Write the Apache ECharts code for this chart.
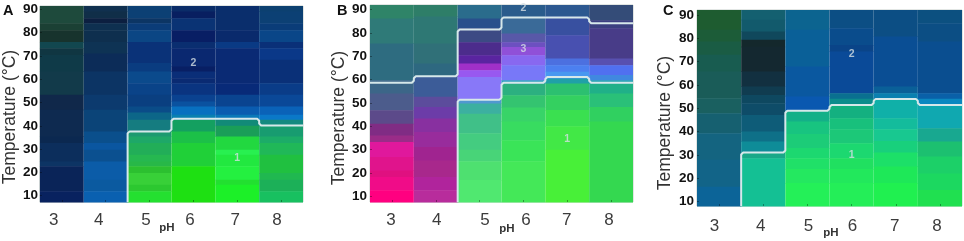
<!DOCTYPE html>
<html><head><meta charset="utf-8">
<script src="https://cdn.jsdelivr.net/npm/echarts@6/dist/echarts.min.js"></script>
<style>html,body{margin:0;background:#fff}#c{width:964px;height:241px;filter:blur(.7px)}</style>
</head><body><div id="c"></div>
<script>
const phLabels = ['3','4','5','6','7','8'];
const tempTicks = [10,20,30,40,50,60,70,80,90];

// Bands per column: [lower edge in °C, colour], top to bottom
const a3 = [[84,'#1e4a3c'],[81,'#1b4034'],[76,'#17332d'],[73.3,'#12474f'],[70.4,'#103642'],[63.3,'#0f3a48'],[53.3,'#123a4a'],[46.9,'#10284a'],[35.4,'#0e2a50'],[32.6,'#0b2850'],[24.7,'#0c2e5c'],[22.6,'#0d3464'],[11.9,'#0a2458'],[7.3,'#08225f']];
const a4 = [[89,'#10304f'],[86.1,'#102e48'],[84,'#0c1f40'],[81,'#0e3050'],[76,'#0e2f4e'],[71,'#0e3354'],[63.3,'#0c2c58'],[53.3,'#0c3464'],[46.9,'#0c3a6e'],[37.6,'#0b4478'],[32.6,'#0a4f8c'],[29.7,'#0a56a0'],[24.7,'#0b5090'],[16.9,'#0b5ca8'],[11.9,'#0b5aa0'],[7.3,'#0a60b0']];
const a5 = [[86.1,'#0c4074'],[84,'#0c3564'],[81,'#0b3c78'],[76,'#0b4684'],[66.9,'#0a3278'],[63.3,'#0a3c80'],[58.3,'#0b4a8c'],[53.3,'#0a4388'],[48.3,'#0a3f80'],[45.7,'#0a4c88'],[42.6,'#0c6688'],[37.6,'#157c80'],[35.4,'#1c9a70'],[32.6,'#1ea868'],[27.6,'#22ae58'],[24.7,'#26b850'],[22.6,'#28b848'],[19.7,'#2cc030'],[14.7,'#38d038'],[11.9,'#2cc830'],[7.3,'#24e030']];
const a6 = [[89,'#0a2c68'],[86.1,'#081f60'],[81,'#0a3374'],[76,'#081e64'],[73.3,'#0a2e70'],[65.4,'#0a2870'],[63.3,'#081f64'],[60.4,'#0a2e78'],[58.3,'#0a2a72'],[53.3,'#0a3480'],[50.4,'#0a4290'],[48.3,'#0a52a0'],[44.7,'#0870c0'],[42.6,'#0a80b0'],[37.6,'#14a060'],[32.6,'#1cc048'],[22.6,'#20d038'],[7.3,'#1ee012']];
const a7 = [[81,'#0a2e6c'],[76,'#0a2a6c'],[73.3,'#0a3a84'],[58.3,'#0a2a74'],[53.3,'#082a78'],[48.3,'#0a4490'],[44.7,'#0a5cb0'],[42.6,'#0a78b8'],[40,'#128a78'],[35.4,'#1a9e58'],[29.7,'#22d840'],[27.6,'#28f050'],[22.6,'#22e840'],[16.9,'#24f040'],[14.7,'#22e030'],[7.3,'#1cf028']];
const a8 = [[89,'#0c4070'],[84,'#0c4074'],[81,'#0a3c78'],[76,'#0a4688'],[73.3,'#0a3078'],[68.3,'#0a3888'],[58.3,'#0a3078'],[53.3,'#0a3c88'],[48.3,'#0a4898'],[44.7,'#0a62b8'],[42.6,'#0a78c8'],[40.4,'#148a80'],[35.4,'#189c70'],[32.6,'#1cac68'],[27.6,'#20b858'],[19.7,'#20c040'],[16.9,'#20b850'],[11.9,'#1cb058'],[7.3,'#18c060']];

const b3 = [[86.1,'#2f8468'],[75.4,'#2f7a78'],[59.7,'#2e6c80'],[54,'#3c6688'],[46.9,'#4c5c8c'],[41.1,'#5c4a8a'],[36.1,'#802c84'],[33.3,'#9a2c88'],[26.9,'#e0189c'],[21.1,'#e0148c'],[18.3,'#e01080'],[12.6,'#f00c88'],[7.6,'#ff0080']];
const b4 = [[87,'#2e7e68'],[75.4,'#2e7874'],[66.9,'#307078'],[61.4,'#2e6880'],[52.6,'#3c5c98'],[48.3,'#5c4c9c'],[43.3,'#6c3ca8'],[37.6,'#8830a0'],[31.1,'#982c9c'],[25.4,'#a02490'],[18.3,'#a8288c'],[12.6,'#b0249c'],[7.6,'#b82c9c']];
const b5 = [[86.1,'#2a6c8c'],[81.9,'#28508c'],[76,'#3c4a84'],[70.4,'#4c2c8c'],[66.9,'#5a24a0'],[64,'#a030c8'],[61.1,'#9858f0'],[51.4,'#8878f8'],[49.7,'#5098d0'],[45.4,'#3cb0a0'],[37,'#40c088'],[30,'#44cc80'],[25,'#48d478'],[17,'#4ee070'],[7.6,'#50e870']];
const b6 = [[87,'#2a5c8c'],[79.7,'#3a6a98'],[76,'#5858a8'],[73.9,'#6c50c0'],[70.4,'#9050d8'],[66.1,'#8868f0'],[59.7,'#7878f8'],[58.3,'#30a0c0'],[53.3,'#2cb080'],[48,'#34c470'],[42,'#38d468'],[34,'#38dc60'],[25,'#3ae458'],[7.6,'#44e858']];
const b7 = [[87,'#2c5890'],[79,'#3850a0'],[69,'#4850b0'],[66.1,'#4c70e0'],[63.3,'#4c80f0'],[60.4,'#4898f0'],[58.3,'#20a0a8'],[53.3,'#2cc070'],[47,'#34d060'],[40,'#3ae050'],[30,'#42e846'],[7.6,'#48f038']];
const b8 = [[85.4,'#344c78'],[81.9,'#3c3f80'],[69,'#483c88'],[66.1,'#5850b0'],[61.9,'#5070f0'],[59.7,'#4088e0'],[58.3,'#20a0b0'],[54,'#20b088'],[48.3,'#2ac078'],[42,'#30d060'],[7.6,'#34d850']];

const c3 = [[83.6,'#1e5c30'],[78.6,'#1c5c38'],[72.9,'#1a5c44'],[65.7,'#185c50'],[54.3,'#1a5c58'],[47.9,'#1a6060'],[39.3,'#166070'],[27.9,'#146480'],[16.4,'#126488'],[8.1,'#0c6498']];
const c4 = [[87.9,'#146070'],[82.9,'#125a6c'],[79.3,'#10485c'],[76.4,'#14282c'],[65.7,'#142830'],[59.3,'#123040'],[55.7,'#103c50'],[52.1,'#0e4860'],[47.1,'#0e4c68'],[40,'#0e5c78'],[35.7,'#0e7088'],[31,'#0e8c98'],[28.6,'#18a888'],[8.1,'#14c094']];
const c5 = [[83.6,'#0c6490'],[67.9,'#0a6098'],[55,'#0a58a0'],[48.9,'#0a58b0'],[44.3,'#14b088'],[39,'#18c480'],[33,'#1ccc78'],[28.6,'#1cd870'],[24,'#20e068'],[18,'#24e860'],[8.1,'#24f058']];
const c6 = [[84.3,'#0c4e84'],[77.1,'#0a4c8c'],[74.3,'#0a4488'],[56.4,'#0a4a98'],[54.1,'#0a7090'],[51.4,'#0c8c8c'],[45.7,'#14b080'],[41,'#18c07c'],[35,'#1cc878'],[28.6,'#1cd870'],[24,'#20e060'],[18,'#22e85c'],[8.1,'#24ee58']];
const c7 = [[80.7,'#0c4e84'],[59.3,'#0a4e94'],[56.4,'#0a6098'],[54,'#0a80b0'],[45.7,'#10b0a8'],[41,'#14bc9c'],[36,'#18c890'],[31,'#18d07c'],[25,'#1ce068'],[18,'#1ee858'],[8.1,'#20f050']];
const c8 = [[86.4,'#0c5080'],[78.6,'#0c4e84'],[56.4,'#0a4e90'],[54.1,'#0a60a8'],[51.4,'#0a88c0'],[41.4,'#10a8b0'],[35.7,'#18a890'],[29.3,'#1cc070'],[22,'#1cd068'],[15,'#1cd860'],[8.1,'#20e050']];

// Contour temperature at each pH (null: no contour in that column)
const contA = [null,null,37.6,43,43,40.1];
const contB1 = [58.6,61.4,81.4,86.6,86.6,84.1];
const contB2 = [null,null,51.4,58.6,61.1,58.6];
const contC = [null,31,48.9,51.4,54,51.4];

const panelA = {letter:'A',cols:[a3,a4,a5,a6,a7,a8],conts:[contA],top:91.4,bottom:7.3,
  box:[38,6,265,196],marks:[['2',3.05,66.9],['1',4.05,26.1]],
  nudge:[-8,-7,-3.5,-3.5,-2,-4],labelMargin:2,nameGap:19,namePad:26,lx:3,ph:[167,222],xMargin:10};
const panelB = {letter:'B',cols:[b3,b4,b5,b6,b7,b8],conts:[contB1,contB2],top:91.9,bottom:7.6,
  box:[370,5,263,197],marks:[['2',3.06,90.4],['3',3.06,72.9],['1',4.04,34.3]],
  nudge:[-1,1,5.5,2.5,-0.5,-2],labelMargin:3,nameGap:20,namePad:29,lx:337,ph:[507,223],xMargin:10};
const panelC = {letter:'C',cols:[c3,c4,c5,c6,c7,c8],conts:[contC],top:92.1,bottom:8.1,
  box:[697,10,265,196],marks:[['2',3.08,73.1],['1',3.08,29.7]],
  nudge:[-4.5,-2.5,1,1,-1,-3],labelMargin:3,nameGap:23,namePad:30,lx:663,ph:[831,227],xMargin:12};
const panels = [panelA,panelB,panelC];

// Softens a contour's corners by cutting each one slightly
function softCorners(pts,r){
  const out=[pts[0]];
  for(let k=1;k<pts.length-1;k++){
    const [x,y]=pts[k],[px,py]=pts[k-1],[nx,ny]=pts[k+1];
    const d1=Math.hypot(px-x,py-y),d2=Math.hypot(nx-x,ny-y);
    if(d1<0.01||d2<0.01) continue;
    const r1=Math.min(r,d1/2),r2=Math.min(r,d2/2);
    out.push([x+(px-x)*r1/d1,y+(py-y)*r1/d1],[x+(nx-x)*r2/d2,y+(ny-y)*r2/d2]);
  }
  out.push(pts[pts.length-1]);
  return out;
}

const grids=[],xAxes=[],yAxes=[],series=[],graphics=[];
panels.forEach((p,i)=>{
  const [l,t,w,h]=p.box;
  grids.push({left:l,top:t,width:w,height:h,show:true,backgroundColor:'transparent',borderColor:'#c4ccc8',borderWidth:1});
  const rich={};
  p.nudge.forEach((d,k)=>{rich['n'+k]={color:'#3c3c3c',fontFamily:'Liberation Sans',fontSize:17,
    padding:d<0?[0,-2*d,0,0]:[0,0,0,2*d]};});
  xAxes.push({gridIndex:i,type:'category',data:phLabels,z:4,
    axisLine:{show:false},splitLine:{show:false},
    axisTick:{show:true,inside:true,length:2,alignWithLabel:true,lineStyle:{color:'rgba(0,0,0,.35)'}},
    axisLabel:{formatter:(v,k)=>`{n${k}|${v}}`,rich,margin:p.xMargin}});
  yAxes.push({gridIndex:i,type:'value',min:p.bottom,max:p.top,z:4,
    axisLine:{show:false},splitLine:{show:false},
    axisTick:{show:true,inside:true,length:2,customValues:tempTicks,lineStyle:{color:'rgba(0,0,0,.35)'}},
    axisLabel:{customValues:tempTicks,color:'#111',fontFamily:'Liberation Sans',fontWeight:'bold',fontSize:13.5,margin:p.labelMargin,
      showMinLabel:true,showMaxLabel:true},
    name:'Temperature (°C)',nameLocation:'middle',nameRotate:90,nameGap:p.nameGap,
    nameTextStyle:{color:'#333',fontFamily:'Liberation Sans',fontSize:17.5,padding:[0,p.namePad,0,0]}});
  const rects=[];
  p.cols.forEach((bands,c)=>{
    let upper=p.top;
    bands.forEach(b=>{rects.push([c,upper,b[0],b[1]]);upper=b[0];});
  });
  series.push({type:'custom',xAxisIndex:i,yAxisIndex:i,data:rects,silent:true,z:1,
    encode:{x:0,y:[1,2]},
    renderItem:(params,api)=>{
      const c=api.value(0);
      const a=api.coord([c,api.value(1)]), b=api.coord([c,api.value(2)]);
      const bw=api.size([1,0])[0];
      return {type:'rect',shape:{x:a[0]-bw/2,y:a[1],width:bw,height:b[1]-a[1]+0.5},
        style:{fill:rects[params.dataIndex][3]}};
    }});
  p.conts.forEach(levels=>{
    series.push({type:'custom',xAxisIndex:i,yAxisIndex:i,data:[levels.map(v=>v==null?'-':v)],silent:true,z:3,
      encode:{x:[],y:[]},
      renderItem:(params,api)=>{
        const bw=api.size([1,0])[0];
        const pts=[];
        levels.forEach((v,c)=>{
          if(v==null) return;
          const y=api.coord([c,v])[1];
          const cx=api.coord([c,p.bottom])[0];
          if(!pts.length && c>0) pts.push([cx-bw/2,api.coord([c,p.bottom])[1]]);
          pts.push([cx-bw/2,y],[cx+bw/2,y]);
        });
        return {type:'polyline',shape:{points:softCorners(pts,2)},
          style:{fill:null,stroke:'#d6e8ea',lineWidth:2,lineJoin:'round'}};
      }});
  });
  series.push({type:'scatter',xAxisIndex:i,yAxisIndex:i,silent:true,z:4,symbolSize:0,
    data:p.marks.map(m=>({value:[m[1],m[2]],name:m[0]})),
    label:{show:true,position:'inside',formatter:'{b}',color:'#d4dfe4',fontFamily:'Liberation Sans',fontWeight:'bold',fontSize:10.5}});
  graphics.push({type:'text',x:p.ph[0],y:p.ph[1],style:{text:'pH',fill:'#333',align:'center',font:'bold 11.5px "Liberation Sans"'}});
  graphics.push({type:'text',x:p.lx,y:3,style:{text:p.letter,fill:'#111',font:'bold 14.5px "Liberation Sans"'}});
});

const chart=echarts.init(document.getElementById('c'),null,{renderer:'canvas'});
chart.setOption({animation:false,grid:grids,xAxis:xAxes,yAxis:yAxes,series,graphic:graphics});
</script></body></html>
